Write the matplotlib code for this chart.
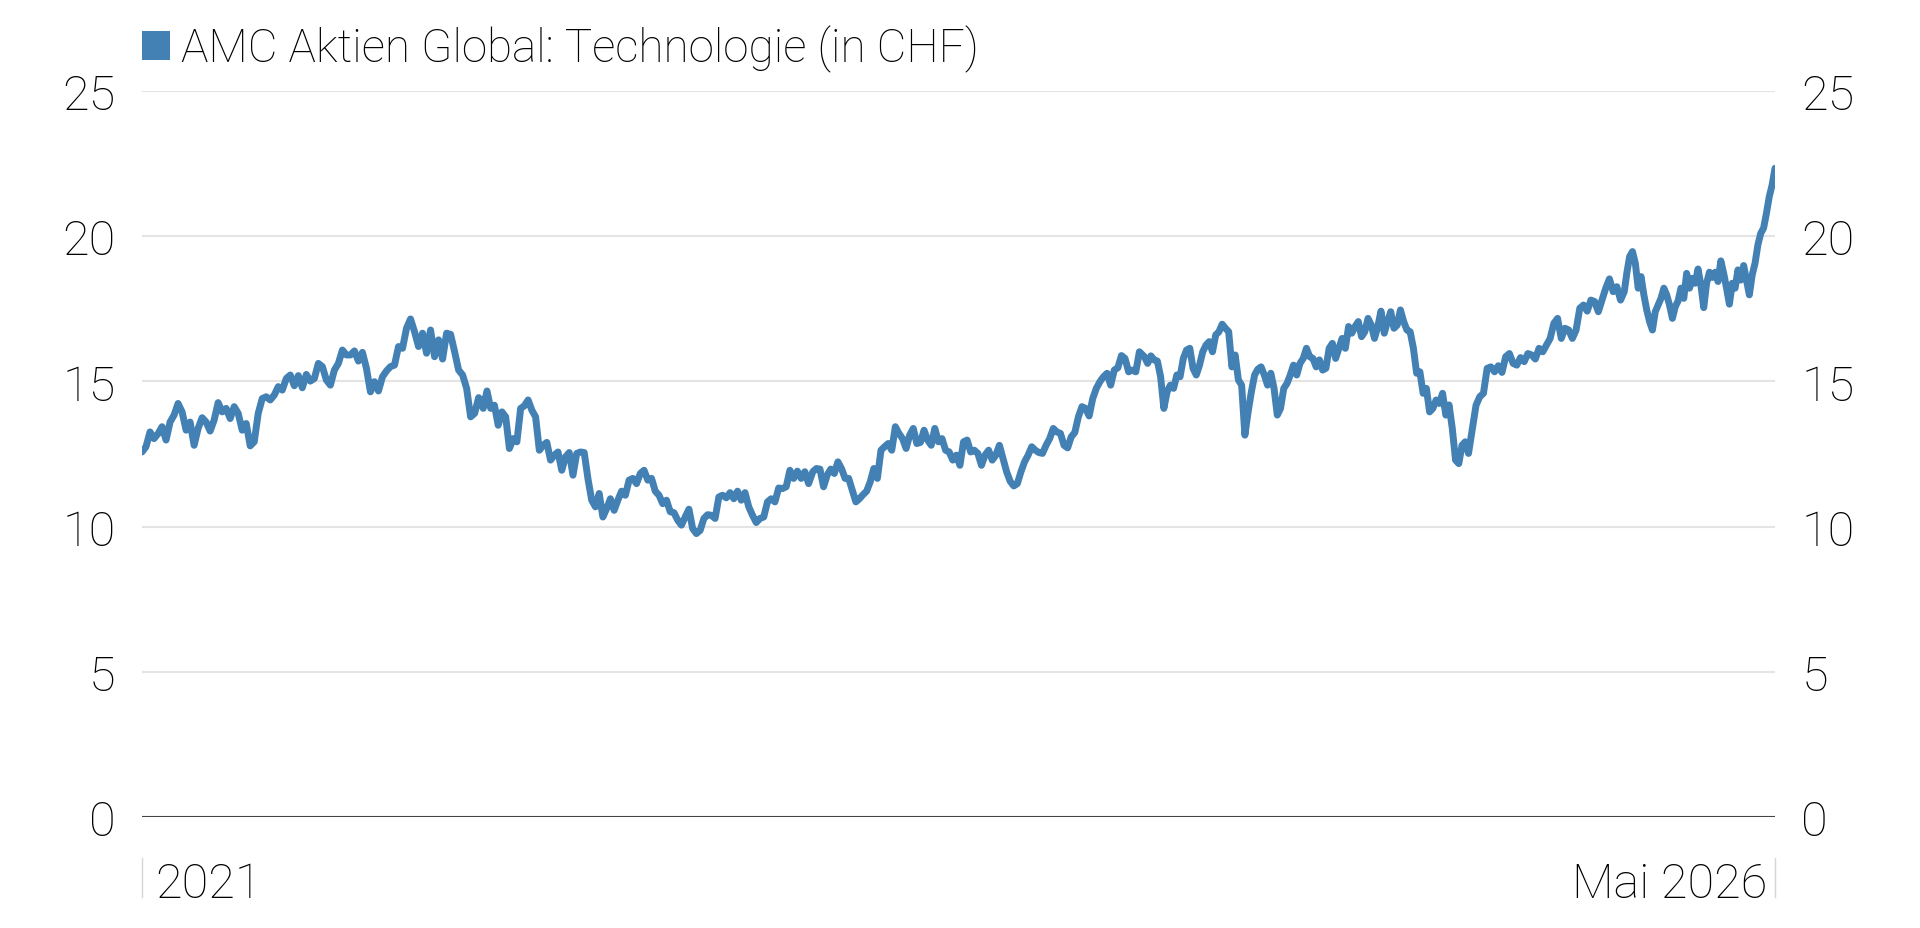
import matplotlib
matplotlib.use("Agg")
import matplotlib.pyplot as plt
from matplotlib.patches import Patch
from matplotlib.transforms import offset_copy
import pandas as pd

plt.rcParams['font.family'] = ['Roboto', 'DejaVu Sans']
plt.rcParams['font.weight'] = 'light'

LINE = "#4380b3"
TXT = "#000000"
FS = 33
series_label = "AMC Aktien Global: Technologie (in CHF)"
first_label = "2021"
last_label = "Mai 2026"
yticks = [0, 5, 10, 15, 20, 25]

# price readings, split in stretches (start date, end date, values)
seg_a_dates = ("2021-01-04", "2022-02-10")
seg_a = [12.57, 12.75, 13.26, 13.03, 13.2, 13.44, 12.98, 13.6, 13.84, 14.24,
         13.95, 13.32, 13.6, 12.8, 13.38, 13.75, 13.6, 13.29, 13.67, 14.27,
         13.95, 14.07, 13.72, 14.13, 13.9, 13.32, 13.55, 12.78, 12.92, 13.9,
         14.41, 14.47, 14.36, 14.53, 14.82, 14.7, 15.1, 15.22, 14.85, 15.2,
         14.78, 15.24, 15.01, 15.1, 15.62, 15.51, 15.05, 14.87, 15.39, 15.62,
         16.08, 15.91, 15.91, 16.05, 15.7, 16.0, 15.45, 14.64, 14.99, 14.67,
         15.16, 15.36, 15.51, 15.56, 16.2, 16.14, 16.83, 17.15, 16.71, 16.2,
         16.66, 15.97, 16.77, 15.85, 16.43, 15.77, 16.66, 16.62, 16.02, 15.39,
         15.22, 14.76, 13.78, 13.9, 14.44]

seg_b_dates = ("2022-02-11", "2023-03-11")
seg_b = [14.41, 14.07, 14.67, 14.07, 14.18, 13.49, 13.95, 13.78, 12.69, 13.03,
         12.92, 14.07, 14.16, 14.36, 14.01, 13.78, 12.63, 12.8, 12.9, 12.29,
         12.46, 12.57, 11.94, 12.4, 12.55, 11.77, 12.52, 12.57, 12.55, 11.65,
         10.91, 10.68, 11.14, 10.33, 10.62, 10.96, 10.56, 10.91, 11.22, 11.08,
         11.6, 11.66, 11.48, 11.83, 11.94, 11.6, 11.66, 11.22, 11.08, 10.79,
         10.91, 10.51, 10.48, 10.22, 10.05, 10.33, 10.6, 9.93, 9.76, 9.87,
         10.28, 10.41, 10.39, 10.28, 11.02, 11.08, 10.99, 11.17, 10.96, 11.22,
         10.91, 11.17, 10.68, 10.39, 10.14, 10.28, 10.33, 10.85, 10.96, 10.85,
         11.33, 11.31, 11.37, 11.94, 11.66, 11.91, 11.66, 11.89, 11.48]

seg_c_dates = ("2023-03-16", "2024-04-09")
seg_c = [11.89, 12.0, 11.98, 11.37, 11.77, 11.98, 11.83, 12.23, 12.0, 11.66,
         11.66, 11.25, 10.85, 10.96, 11.1, 11.22, 11.54, 12.0, 11.66, 12.63,
         12.75, 12.86, 12.63, 13.44, 13.21, 13.03, 12.69, 13.15, 13.38, 12.86,
         12.9, 13.32, 12.98, 12.8, 13.38, 12.92, 13.03, 12.63, 12.57, 12.29,
         12.46, 12.11, 12.92, 12.98, 12.57, 12.63, 12.52, 12.11, 12.46, 12.63,
         12.29, 12.46, 12.8, 12.34, 11.89, 11.56, 11.4, 11.48, 11.89, 12.23,
         12.46, 12.75, 12.63, 12.55, 12.52, 12.8, 13.03, 13.38, 13.26, 13.21,
         12.8, 12.71, 13.09, 13.24, 13.78, 14.13, 14.07, 13.81, 14.41, 14.76,
         14.99, 15.16, 15.28, 14.87, 15.39, 15.47, 15.89, 15.79, 15.33, 15.39,
         15.33, 16.02]

seg_d_dates = ("2024-04-15", "2025-05-07")
seg_d = [15.85, 15.62, 15.88, 15.74, 15.7, 15.16, 14.07, 14.64, 14.87, 14.76,
         15.22, 15.16, 15.79, 16.08, 16.14, 15.45, 15.22, 15.56, 16.02, 16.25,
         16.37, 16.02, 16.6, 16.71, 16.97, 16.83, 16.71, 15.5, 15.91, 15.05,
         14.87, 13.15, 13.95, 14.64, 15.22, 15.42, 15.5, 15.22, 14.87, 15.28,
         14.76, 13.84, 14.07, 14.76, 14.93, 15.22, 15.56, 15.22, 15.62, 15.79,
         16.14, 15.85, 15.79, 15.5, 15.74, 15.39, 15.45, 16.14, 16.31, 15.79,
         16.14, 16.48, 16.14, 16.89, 16.66, 16.89, 17.06, 16.54, 16.71, 17.17,
         16.94, 16.48, 16.89, 17.42, 16.66, 17.06, 17.4, 16.83, 16.94, 17.46,
         17.06, 16.77, 16.71, 16.14, 15.28, 15.33, 14.59, 14.76, 13.95, 14.07,
         14.36, 14.24, 14.59, 13.84, 14.19, 13.38, 12.29, 12.17, 12.8, 12.92,
         12.52]

seg_e_dates = ("2025-05-16", "2025-11-09")
seg_e = [14.18, 14.47, 14.59, 15.45, 15.5, 15.33, 15.54, 15.31, 15.85, 15.96,
         15.62, 15.56, 15.82, 15.68, 15.96, 15.91, 15.77, 16.14, 16.02, 16.25,
         16.48, 17.0, 17.17, 16.48, 16.83, 16.77, 16.48, 16.77, 17.52, 17.63,
         17.42, 17.8, 17.75, 17.4, 17.8, 18.21, 18.53, 18.09, 18.26, 17.8,
         18.09]

seg_f_dates = ("2025-11-12", "2026-05-08")
seg_f = [18.72, 19.3, 19.47, 19.07, 18.21, 18.61, 17.98, 17.46, 17.06, 16.77,
         17.4, 17.63, 17.86, 18.21, 17.98, 17.63, 17.17, 17.57, 17.77, 18.21,
         17.86, 18.72, 18.21, 18.55, 18.38, 18.87, 18.32, 17.54, 18.38, 18.76,
         18.58, 18.76, 18.44, 19.15, 18.72, 18.21, 17.66, 18.38, 18.21, 18.84,
         18.49, 18.99, 18.49, 17.98, 18.67, 19.07, 19.7, 20.1, 20.28, 20.79,
         21.37, 21.77, 22.34]

segments = [(seg_a_dates, seg_a), (seg_b_dates, seg_b), (seg_c_dates, seg_c),
            (seg_d_dates, seg_d), (seg_e_dates, seg_e), (seg_f_dates, seg_f)]

dates = []
values = []
for (d0, d1), vals in segments:
    dates.extend(pd.date_range(d0, d1, periods=len(vals)))
    values.extend(vals)

start = pd.Timestamp(seg_a_dates[0])
end = pd.Timestamp(seg_f_dates[1])

fig = plt.figure(figsize=(19.2, 9.29), dpi=100)
ax = fig.add_axes([0.07396, 0.11948, 0.85052, 0.78149])

ax.plot(dates, values, color=LINE, lw=5, solid_joinstyle="round",
        solid_capstyle="round", zorder=3)

ax.set_xlim(start, end)
ax.set_ylim(0, 25)
ax.set_yticks(yticks)
ax.set_xticks([])
ax.grid(axis="y", color="#e4e4e4", lw=1.5)
ax.set_axisbelow(True)
ax.axhline(0, color="#444444", lw=1.5, zorder=2)
for s in ax.spines.values():
    s.set_visible(False)
ax.tick_params(axis="y", length=0, labelsize=FS + 2, pad=19, colors=TXT,
               labelleft=True, labelright=True)

# x labels at both ends, with thin grey separators
tr = ax.get_xaxis_transform()
ax.text(start, -0.1102, first_label, fontsize=FS + 2, ha="left", va="baseline",
        color=TXT, transform=offset_copy(tr, fig=fig, x=13, units="dots"))
ax.text(end, -0.1102, last_label, fontsize=FS + 2, ha="right", va="baseline",
        color=TXT, transform=offset_copy(tr, fig=fig, x=-8, units="dots"))
for d in (start, end):
    ax.plot([d, d], [-0.0565, -0.110], transform=tr, color="#d6d6d6", lw=1,
            clip_on=False)

leg = fig.legend(handles=[Patch(facecolor=LINE, edgecolor="none")], labels=[series_label],
                 loc="upper left", bbox_to_anchor=(0.0740, 0.972), frameon=False,
                 fontsize=FS, handlelength=0.6, handleheight=0.6,
                 handletextpad=0.25, borderpad=0, borderaxespad=0)
for t in leg.get_texts():
    t.set_color(TXT)

fig.savefig("out.png", dpi=100)
